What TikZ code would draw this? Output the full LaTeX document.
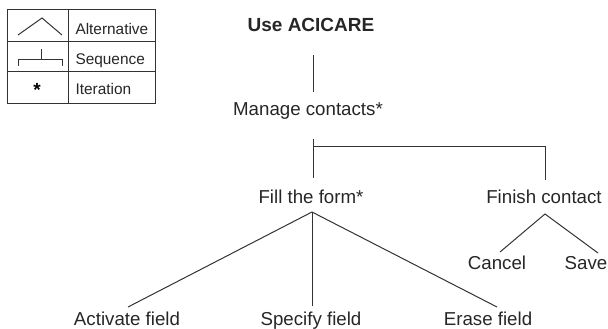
\documentclass[tikz,border=0pt]{standalone}
\usepackage{fontspec}
\setmainfont{Liberation Sans}
\begin{document}
\begin{tikzpicture}[x=1pt,y=-1pt,line width=1pt,draw=black!80,
    task/.style={inner sep=0pt,anchor=base,font=\fontsize{18.7}{22}\selectfont,text=black!85},
    key/.style={inner sep=0pt,anchor=base west,font=\fontsize{15.4}{18}\selectfont,text=black!85}]
  \useasboundingbox (0,0) rectangle (608,329);
  % legend
  \draw (7,10) rectangle (155,103);
  \draw (68,10) -- (68,103);
  \draw (7,42) -- (155,42);
  \draw (7,72) -- (155,72);
  \draw (18,35) -- (42,18) -- (62,35);
  \draw (18,66) -- (18,60) -- (62,60) -- (62,66);
  \draw (41,49) -- (41,60);
  \node[inner sep=0pt,font=\fontsize{19}{19}\bfseries] (star) at (37,90) {*};
  \node[key] (alt) at (75,35) {Alternative};
  \node[key] (seq) at (75,65) {Sequence};
  \node[key] (ite) at (75,95) {Iteration};
  % tasks
  \node[task,font=\fontsize{19}{22}\bfseries] (use) at (311,32) {Use ACICARE};
  \node[task] (manage) at (308,115) {Manage contacts*};
  \node[task] (fill) at (311,203) {Fill the form*};
  \node[task] (finish) at (544,203) {Finish contact};
  \node[task] (cancel) at (497,269) {Cancel};
  \node[task] (save) at (586,269) {Save};
  \node[task] (activate) at (127,325) {Activate field};
  \node[task] (specify) at (311,325) {Specify field};
  \node[task] (erase) at (488,325) {Erase field};
  % connectors
  \coordinate (useend) at (313,55);
  \coordinate (manageend) at (313,92);
  \draw (useend) -- (manageend);
  \coordinate (seqtop) at (313,139);
  \coordinate (seqbar) at (313,146);
  \coordinate (seqright) at (545,146);
  \coordinate (fillend) at (313,178);
  \coordinate (finishend) at (545,180);
  \draw (seqtop) -- (fillend);
  \draw (seqbar) -- (seqright) -- (finishend);
  \coordinate (fillapex) at (312,212);
  \coordinate (activateend) at (128,307);
  \coordinate (specifyend) at (312,306);
  \coordinate (eraseend) at (497,307);
  \draw (activateend) -- (fillapex) -- (eraseend);
  \draw (fillapex) -- (specifyend);
  \coordinate (finishapex) at (545,214);
  \coordinate (cancelend) at (500,252);
  \coordinate (saveend) at (598,253);
  \draw (cancelend) -- (finishapex) -- (saveend);
\end{tikzpicture}
\end{document}
